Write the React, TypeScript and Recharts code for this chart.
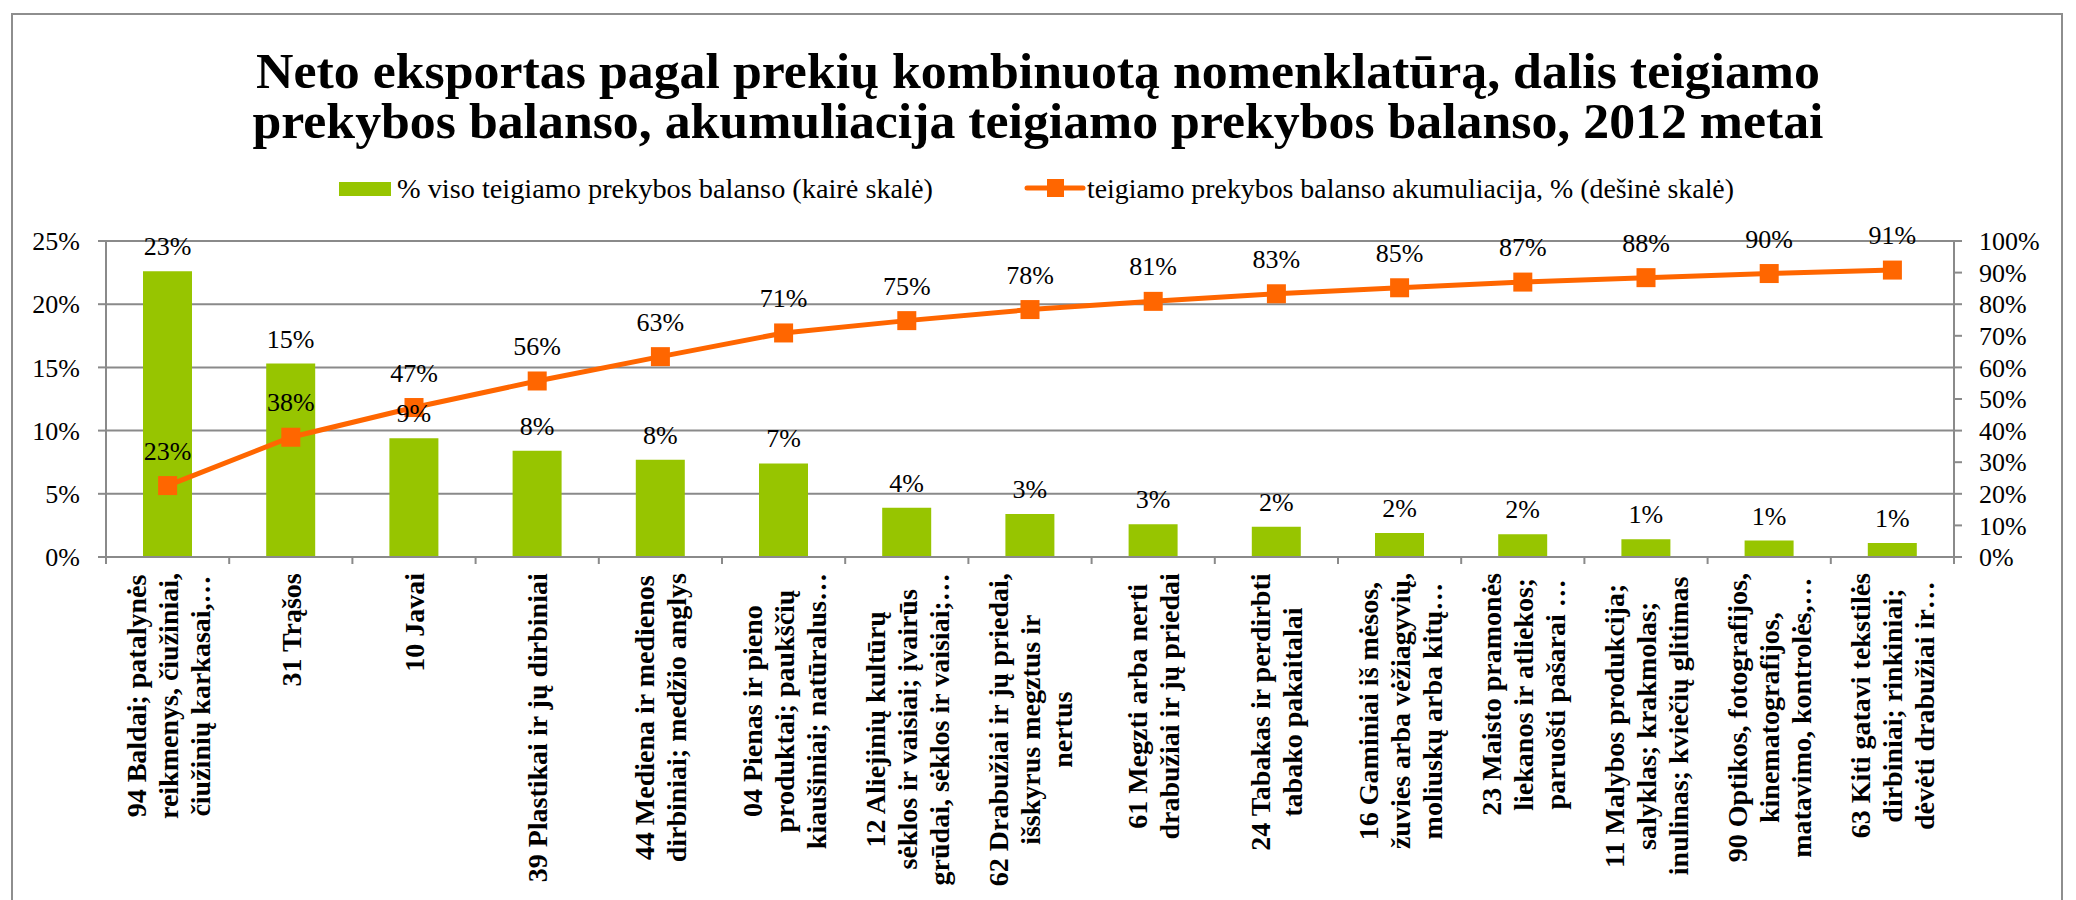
import { ComposedChart, Bar, Line, XAxis, YAxis, CartesianGrid, LabelList } from 'recharts';

const categories = [
  '94 Baldai', '31 Trąšos', '10 Javai', '39 Plastikai', '44 Mediena',
  '04 Pienas', '12 Aliejinių kultūrų sėklos', '62 Drabužiai', '61 Megzti drabužiai', '24 Tabakas',
  '16 Gaminiai iš mėsos', '23 Maisto pramonės liekanos', '11 Malybos produkcija', '90 Optikos', '63 Kiti gatavi tekstilės dirbiniai',
];

// tick label lines, wrapped and cut as in the picture
const categoryLines = [
  ['94 Baldai; patalynės', 'reikmenys, čiužiniai,', 'čiužinių karkasai,…'],
  ['31 Trąšos'],
  ['10 Javai'],
  ['39 Plastikai ir jų dirbiniai'],
  ['44 Mediena ir medienos', 'dirbiniai; medžio anglys'],
  ['04 Pienas ir pieno', 'produktai; paukščių', 'kiaušiniai; natūralus…'],
  ['12 Aliejinių kultūrų', 'sėklos ir vaisiai; įvairūs', 'grūdai, sėklos ir vaisiai;…'],
  ['62 Drabužiai ir jų priedai,', 'išskyrus megztus ir', 'nertus'],
  ['61 Megzti arba nerti', 'drabužiai ir jų priedai'],
  ['24 Tabakas ir perdirbti', 'tabako pakaitalai'],
  ['16 Gaminiai iš mėsos,', 'žuvies arba vėžiagyvių,', 'moliuskų arba kitų…'],
  ['23 Maisto pramonės', 'liekanos ir atliekos;', 'paruošti pašarai …'],
  ['11 Malybos produkcija;', 'salyklas; krakmolas;', 'inulinas;  kviečių glitimas'],
  ['90 Optikos, fotografijos,', 'kinematografijos,', 'matavimo, kontrolės,…'],
  ['63 Kiti gatavi tekstilės', 'dirbiniai; rinkiniai;', 'dėvėti drabužiai ir…'],
];

const shareValues = [22.6, 15.3, 9.4, 8.4, 7.7, 7.4, 3.9, 3.4, 2.6, 2.4, 1.9, 1.8, 1.4, 1.3, 1.1];
const cumulativeValues = [22.6, 37.9, 47.3, 55.7, 63.4, 70.9, 74.8, 78.3, 80.9, 83.3, 85.2, 87.0, 88.4, 89.7, 90.8];

const leftTicks = [0, 5, 10, 15, 20, 25];
const rightTicks = [0, 10, 20, 30, 40, 50, 60, 70, 80, 90, 100];

const titleLines = [
  'Neto eksportas pagal prekių kombinuotą nomenklatūrą,  dalis teigiamo',
  'prekybos balanso, akumuliacija teigiamo prekybos balanso, 2012 metai',
];
const barLegend = '% viso teigiamo prekybos balanso (kairė skalė)';
const lineLegend = 'teigiamo prekybos balanso akumuliacija, % (dešinė skalė)';

const data = categories.map((name, i) => ({ name, share: shareValues[i], cum: cumulativeValues[i] }));

const W = 2060;
const H = 892;
const PLOT_LEFT = 98;
const PLOT_RIGHT = 1946;
const BAND = (PLOT_RIGHT - PLOT_LEFT) / categories.length;
const GREEN = '#97C500';
const ORANGE = '#FF6600';
const GREY = '#8a8a8a';
const SERIF = '"Liberation Serif", "Times New Roman", serif';

let ctx: CanvasRenderingContext2D | null = null;
function textWidth(s: string, font: string) {
  if (!ctx) ctx = document.createElement('canvas').getContext('2d');
  if (!ctx) return s.length * 14;
  ctx.font = font;
  return ctx.measureText(s).width;
}

function CategoryTick({ x, y, index }: any) {
  const lines = categoryLines[index] ?? [];
  const maxW = Math.max(...lines.map((l) => textWidth(l, 'bold 28px "Liberation Serif"')));
  return (
    <g>
      <line x1={x - BAND / 2} x2={x - BAND / 2} y1={y} y2={y + 7} stroke={GREY} strokeWidth={2} />
      {index === categories.length - 1 && (
        <line x1={x + BAND / 2} x2={x + BAND / 2} y1={y} y2={y + 7} stroke={GREY} strokeWidth={2} />
      )}
      <g transform={`translate(${x},${y + 16}) rotate(-90)`}>
        {lines.map((l, i) => (
          <text
            key={i}
            x={-maxW / 2}
            y={(i - (lines.length - 1) / 2) * 32 + 10}
            textAnchor="middle"
            fontFamily={SERIF}
            fontWeight="bold"
            fontSize={28}
            fill="#000"
          >
            {l}
          </text>
        ))}
      </g>
    </g>
  );
}

const SquareDot = (props: any) => {
  const { cx, cy, index } = props;
  return <rect key={`sq-${index}`} x={cx - 9.5} y={cy - 9.5} width={19} height={19} fill={ORANGE} />;
};

const pct = (v: any) => `${Math.round(Number(v))}%`;

export default function App() {
  return (
    <div style={{ position: 'relative', width: W, height: H, overflow: 'hidden', background: '#fff' }}>
      <div
        style={{
          position: 'absolute', left: 3, top: 5, width: 2052, height: 940,
          border: '2px solid #8e8e8e', boxSizing: 'border-box',
        }}
      />
      <svg width={W} height={230} style={{ position: 'absolute', left: 0, top: 0 }}>
        <text textAnchor="middle" fontFamily={SERIF} fontWeight="bold" fontSize={50}>
          <tspan x={1030} y={80} textLength={1564} lengthAdjust="spacingAndGlyphs">{titleLines[0]}</tspan>
          <tspan x={1030} y={130} textLength={1571} lengthAdjust="spacingAndGlyphs">{titleLines[1]}</tspan>
        </text>
        <rect x={331} y={174} width={52} height={14} fill={GREEN} />
        <text x={389} y={190} fontFamily={SERIF} fontSize={28} fill="#000"
          textLength={536} lengthAdjust="spacingAndGlyphs">{barLegend}</text>
        <line x1={1019} x2={1075} y1={180} y2={180} stroke={ORANGE} strokeWidth={5} strokeLinecap="round" />
        <rect x={1039} y={171} width={17} height={18} fill={ORANGE} />
        <text x={1079} y={190} fontFamily={SERIF} fontSize={28} fill="#000"
          textLength={647} lengthAdjust="spacingAndGlyphs">{lineLegend}</text>
      </svg>
      <div style={{ position: 'absolute', left: 0, top: 0 }}>
        <ComposedChart width={W} height={H} data={data} margin={{ top: 233, right: 0, bottom: 0, left: 0 }}>
          <CartesianGrid yAxisId="left" vertical={false} stroke={GREY} strokeWidth={2} />
          <XAxis
            dataKey="name"
            interval={0}
            height={343}
            tickLine={false}
            tickSize={0}
            tickMargin={0}
            axisLine={{ stroke: GREY, strokeWidth: 2 }}
            tick={<CategoryTick />}
          />
          <YAxis
            yAxisId="left"
            width={98}
            domain={[0, 25]}
            ticks={leftTicks}
            interval={0}
            tickFormatter={(v) => `${v}%`}
            tickSize={8}
            tickMargin={18}
            axisLine={{ stroke: GREY, strokeWidth: 2 }}
            tickLine={{ stroke: GREY, strokeWidth: 2 }}
            tick={{ fill: '#000', fontSize: 26, fontFamily: SERIF }}
          />
          <YAxis
            yAxisId="right"
            orientation="right"
            width={114}
            domain={[0, 100]}
            ticks={rightTicks}
            interval={0}
            tickFormatter={(v) => `${v}%`}
            tickSize={8}
            tickMargin={17}
            axisLine={{ stroke: GREY, strokeWidth: 2 }}
            tickLine={{ stroke: GREY, strokeWidth: 2 }}
            tick={{ fill: '#000', fontSize: 26, fontFamily: SERIF, textAnchor: 'start' }}
          />
          <Bar yAxisId="left" dataKey="share" fill={GREEN} barSize={49} isAnimationActive={false}>
            <LabelList dataKey="share" position="top" offset={16} formatter={pct}
              fill="#000" fontSize={26} fontFamily={SERIF} />
          </Bar>
          <Line
            yAxisId="right"
            type="linear"
            dataKey="cum"
            stroke={ORANGE}
            strokeWidth={5}
            dot={SquareDot}
            activeDot={false}
            isAnimationActive={false}
          >
            <LabelList dataKey="cum" position="top" offset={26} formatter={pct}
              fill="#000" fontSize={26} fontFamily={SERIF} />
          </Line>
        </ComposedChart>
      </div>
    </div>
  );
}
